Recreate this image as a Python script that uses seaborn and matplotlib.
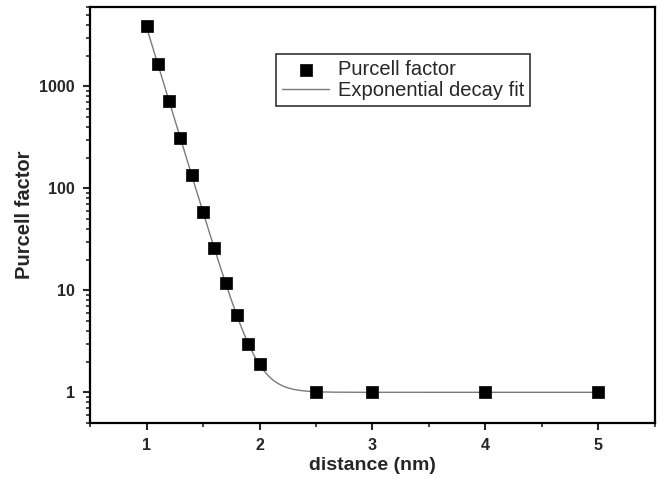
import numpy as np
import pandas as pd
import matplotlib
matplotlib.use("Agg")
import matplotlib.pyplot as plt
from matplotlib.ticker import FixedLocator, FixedFormatter, MultipleLocator, LogLocator, NullFormatter
import seaborn as sns

# values
distance = [1.0, 1.1, 1.2, 1.3, 1.4, 1.5, 1.6, 1.7, 1.8, 1.9, 2.0, 2.5, 3.0, 4.0, 5.0]
purcell = [3870, 1640, 713, 309, 134, 58, 26, 11.7, 5.7, 3.0, 1.88, 1.0, 1.0, 1.0, 1.0]

x_ticks = [1, 2, 3, 4, 5]
y_ticks = [1, 10, 100, 1000]
y_tick_labels = ["1", "10", "100", "1000"]

# exponential decay fit y = 1 + A*exp(-x/t), fitted on the decaying points
d = np.array(distance)
p = np.array(purcell)
mask = p > 1.5
slope, icpt = np.polyfit(d[mask], np.log(p[mask] - 1), 1)
fit_x = np.linspace(1.0, 5.0, 400)
fit_y = 1 + np.exp(icpt + slope * fit_x)

pts = pd.DataFrame({"distance": distance, "purcell": purcell})
fit = pd.DataFrame({"distance": fit_x, "purcell": fit_y})

sns.set_style("ticks")
plt.rcParams["font.family"] = ["Liberation Sans", "DejaVu Sans"]

fig, ax = plt.subplots(figsize=(6.59, 4.79), dpi=100)
fig.subplots_adjust(left=0.1366, right=0.9939, top=0.9854, bottom=0.1169)

sns.lineplot(data=fit, x="distance", y="purcell", ax=ax, color="#7a7a7a",
             linewidth=1.0, label="Exponential decay fit", zorder=2)
sns.scatterplot(data=pts, x="distance", y="purcell", ax=ax, marker="s", s=64,
                color="black", edgecolor="black", linewidth=0.5,
                label="Purcell factor", zorder=3)

ax.set_yscale("log")
ax.set_xlim(0.5, 5.5)
ax.set_ylim(0.5, 6000)

ax.xaxis.set_major_locator(FixedLocator(x_ticks))
ax.xaxis.set_minor_locator(MultipleLocator(0.5))
ax.yaxis.set_major_locator(FixedLocator(y_ticks))
ax.yaxis.set_major_formatter(FixedFormatter(y_tick_labels))
ax.yaxis.set_minor_locator(LogLocator(base=10, subs=np.arange(2, 10)))
ax.yaxis.set_minor_formatter(NullFormatter())

for lab in ax.get_xticklabels() + ax.get_yticklabels():
    lab.set_fontweight("bold")
    lab.set_fontsize(11.5)

ax.tick_params(which="major", direction="out", length=5, width=1.5, pad=6)
ax.tick_params(which="minor", direction="out", length=3, width=1.2)
for s in ax.spines.values():
    s.set_linewidth(1.6)
    s.set_color("black")
    s.set_visible(True)

ax.set_xlabel("distance (nm)", fontsize=14, fontweight="bold", labelpad=3)
ax.set_ylabel("Purcell factor", fontsize=14.5, fontweight="bold", labelpad=4)

handles, labels = ax.get_legend_handles_labels()
order = [labels.index("Purcell factor"), labels.index("Exponential decay fit")]
leg = ax.legend([handles[i] for i in order], [labels[i] for i in order],
                loc="upper left", bbox_to_anchor=(0.33, 0.887), fontsize=14.5,
                frameon=True, fancybox=False, edgecolor="black",
                handlelength=2.3, handletextpad=0.45, borderpad=0.3,
                labelspacing=0.1, borderaxespad=0)
leg.get_frame().set_linewidth(1.2)
leg.legend_handles[1].set_color("#7a7a7a")

fig.savefig("out.png", dpi=100)
